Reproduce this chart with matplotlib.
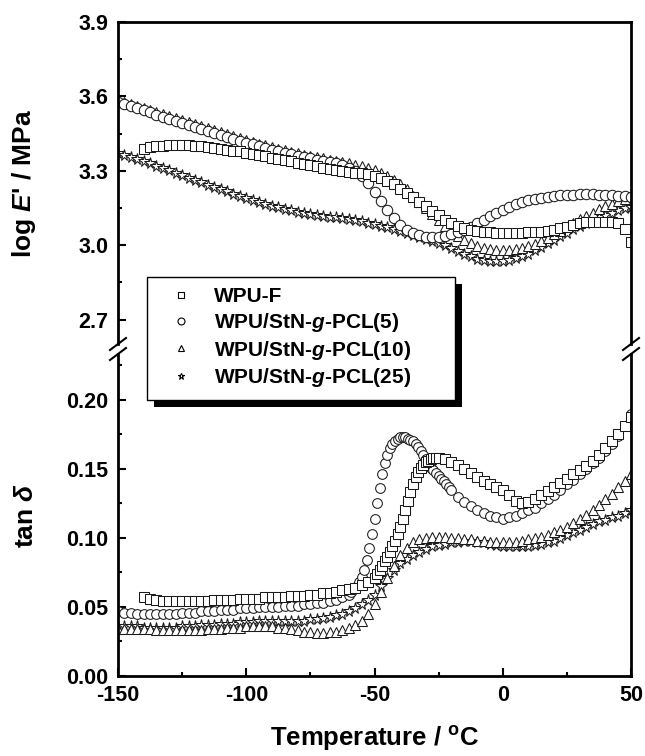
import numpy as np
import matplotlib
matplotlib.use('Agg')
import matplotlib.pyplot as plt
from matplotlib.lines import Line2D
from matplotlib.patches import Rectangle
from matplotlib.ticker import FixedLocator, FormatStrFormatter

plt.rcParams['font.family'] = ['Liberation Sans', 'DejaVu Sans']
plt.rcParams['font.weight'] = 'bold'
plt.rcParams['mathtext.fontset'] = 'custom'
plt.rcParams['mathtext.rm'] = 'Liberation Sans:bold'
plt.rcParams['mathtext.it'] = 'Liberation Sans:italic:bold'
plt.rcParams['mathtext.bf'] = 'Liberation Sans:bold'

# ----------------------------------------------------------------------- data
labels = ['WPU-F', 'WPU/StN-$g$-PCL(5)', 'WPU/StN-$g$-PCL(10)', 'WPU/StN-$g$-PCL(25)']
markers = ['s', 'o', '^', '*']

# temperature sweeps (deg C)
temp = np.arange(-150, 50.01, 2.5)
temp_f = np.arange(-140, 50.01, 2.5)

# log E' / MPa
logE_f = [3.390, 3.395, 3.399, 3.402, 3.404, 3.405, 3.405, 3.404,
          3.402, 3.400, 3.397, 3.394, 3.390, 3.386, 3.382, 3.378,
          3.373, 3.368, 3.363, 3.358, 3.353, 3.348, 3.343, 3.338,
          3.333, 3.328, 3.323, 3.318, 3.313, 3.308, 3.303, 3.299,
          3.296, 3.293, 3.290, 3.286, 3.280, 3.272, 3.260, 3.245,
          3.227, 3.212, 3.195, 3.176, 3.157, 3.138, 3.120, 3.103,
          3.089, 3.078, 3.069, 3.062, 3.057, 3.054, 3.052, 3.051,
          3.050, 3.050, 3.050, 3.051, 3.052, 3.053, 3.055, 3.058,
          3.062, 3.068, 3.075, 3.082, 3.088, 3.092, 3.094, 3.095,
          3.095, 3.093, 3.088, 3.065,
          3.015]
logE_5 = [3.576, 3.570, 3.563, 3.554, 3.545, 3.536, 3.527, 3.518,
          3.510, 3.502, 3.494, 3.486, 3.478, 3.470, 3.462, 3.454,
          3.446, 3.438, 3.430, 3.422, 3.414, 3.407, 3.400, 3.393,
          3.386, 3.379, 3.373, 3.367, 3.361, 3.355, 3.350, 3.345,
          3.340, 3.335, 3.330, 3.325, 3.312, 3.300, 3.280, 3.250,
          3.215, 3.178, 3.142, 3.110, 3.082, 3.062, 3.048, 3.040,
          3.035, 3.033, 3.034, 3.038, 3.045, 3.053, 3.063, 3.075,
          3.088, 3.102, 3.116, 3.130, 3.143, 3.155, 3.165, 3.174,
          3.181, 3.187, 3.192, 3.196, 3.199, 3.201, 3.203, 3.204,
          3.205, 3.205, 3.205, 3.204, 3.203, 3.201, 3.199, 3.197,
          3.195]
logE_10 = [3.582, 3.577, 3.570, 3.562, 3.554, 3.545, 3.536, 3.528,
           3.520, 3.512, 3.504, 3.496, 3.488, 3.480, 3.472, 3.464,
           3.456, 3.448, 3.440, 3.432, 3.424, 3.417, 3.410, 3.403,
           3.396, 3.389, 3.383, 3.377, 3.371, 3.365, 3.360, 3.355,
           3.350, 3.345, 3.340, 3.335, 3.330, 3.325, 3.320, 3.312,
           3.302, 3.292, 3.280, 3.264, 3.245, 3.225, 3.200, 3.175,
           3.150, 3.125, 3.100, 3.076, 3.055, 3.037, 3.021, 3.008,
           2.998, 2.990, 2.985, 2.982, 2.981, 2.982, 2.985, 2.990,
           2.997, 3.006, 3.017, 3.030, 3.044, 3.059, 3.074, 3.089,
           3.104, 3.118, 3.132, 3.145, 3.157, 3.168, 3.178, 3.188,
           3.197]
logE_25 = [3.372, 3.365, 3.357, 3.348, 3.339, 3.330, 3.320, 3.311,
           3.302, 3.292, 3.283, 3.273, 3.263, 3.254, 3.244, 3.235,
           3.226, 3.217, 3.208, 3.199, 3.191, 3.183, 3.175, 3.167,
           3.160, 3.153, 3.147, 3.141, 3.135, 3.130, 3.126, 3.122,
           3.118, 3.115, 3.112, 3.109, 3.105, 3.101, 3.096, 3.091,
           3.085, 3.079, 3.072, 3.065, 3.058, 3.050, 3.042, 3.034,
           3.026, 3.018, 3.010, 3.000, 2.990, 2.978, 2.966, 2.955,
           2.946, 2.940, 2.936, 2.935, 2.937, 2.941, 2.947, 2.956,
           2.966, 2.980, 2.994, 3.008, 3.022, 3.037, 3.051, 3.064,
           3.077, 3.090, 3.102, 3.113, 3.123, 3.132, 3.141, 3.149,
           3.156]

# tan delta (finer sweep read where the curves are steep)
temp_tan_f = np.concatenate([np.arange(-140, -49.9, 2.5), np.arange(-49, -25.9, 1),
                             np.arange(-25, 50.01, 2.5)])
temp_tan_5 = np.concatenate([np.arange(-150, -59.9, 2.5), np.arange(-59, -19.9, 1),
                             np.arange(-17.5, 50.01, 2.5)])
tan_f = [0.0575, 0.056, 0.055, 0.054, 0.054, 0.054, 0.054, 0.054,
         0.054, 0.054, 0.054, 0.055, 0.055, 0.055, 0.055, 0.056,
         0.056, 0.056, 0.056, 0.057, 0.057, 0.057, 0.057, 0.058,
         0.058, 0.058, 0.059, 0.059, 0.060, 0.060, 0.061, 0.062,
         0.063, 0.064, 0.066, 0.068, 0.071,
         0.074, 0.077, 0.080, 0.083, 0.086, 0.090, 0.094, 0.098,
         0.103, 0.108, 0.114, 0.120, 0.127, 0.133, 0.139, 0.144,
         0.148, 0.151, 0.153, 0.155, 0.156, 0.157, 0.158, 0.158,
         0.158, 0.157, 0.155, 0.153, 0.150, 0.147, 0.144, 0.141,
         0.139, 0.137, 0.135, 0.131, 0.127, 0.125, 0.126, 0.128,
         0.131, 0.134, 0.137, 0.140, 0.143, 0.146, 0.149, 0.152,
         0.156, 0.160, 0.165, 0.170, 0.175, 0.181, 0.188]
tan_5 = [0.047, 0.046, 0.046, 0.045, 0.045, 0.045, 0.045, 0.045,
         0.045, 0.045, 0.046, 0.046, 0.046, 0.047, 0.047, 0.047,
         0.048, 0.048, 0.048, 0.049, 0.049, 0.049, 0.050, 0.050,
         0.050, 0.050, 0.051, 0.051, 0.051, 0.052, 0.052, 0.053,
         0.053, 0.054, 0.055, 0.057,
         0.059,
         0.061, 0.063, 0.065, 0.068, 0.072, 0.077, 0.084, 0.093, 0.103, 0.114,
         0.125, 0.136, 0.146, 0.154, 0.160, 0.165, 0.168, 0.170, 0.172, 0.173,
         0.173, 0.173, 0.172, 0.171, 0.170, 0.168, 0.166, 0.163, 0.160, 0.157,
         0.154, 0.151, 0.149, 0.147, 0.145, 0.143, 0.141, 0.139, 0.137, 0.135,
         0.130, 0.126, 0.123, 0.120, 0.118, 0.116, 0.115, 0.114,
         0.115, 0.116, 0.118, 0.120, 0.122, 0.125, 0.128, 0.131,
         0.135, 0.139, 0.142, 0.146, 0.150, 0.154, 0.158, 0.163,
         0.168, 0.174, 0.181, 0.190]
tan_10 = [0.034, 0.034, 0.034, 0.034, 0.034, 0.034, 0.033, 0.033,
          0.033, 0.033, 0.033, 0.033, 0.033, 0.033, 0.034, 0.034,
          0.034, 0.035, 0.035, 0.035, 0.036, 0.036, 0.036, 0.036,
          0.036, 0.035, 0.035, 0.034, 0.033, 0.032, 0.032, 0.031,
          0.031, 0.032, 0.032, 0.033, 0.035, 0.037, 0.040, 0.045,
          0.052, 0.061, 0.071, 0.080, 0.088, 0.093, 0.097, 0.099,
          0.100, 0.101, 0.101, 0.101, 0.100, 0.100, 0.099, 0.099,
          0.098, 0.098, 0.097, 0.097, 0.097, 0.097, 0.097, 0.098,
          0.099, 0.100, 0.101, 0.102, 0.104, 0.106, 0.108, 0.111,
          0.114, 0.117, 0.120, 0.124, 0.128, 0.132, 0.137, 0.141,
          0.146]
tan_25 = [0.036, 0.036, 0.036, 0.036, 0.035, 0.035, 0.035, 0.035,
          0.035, 0.035, 0.036, 0.036, 0.036, 0.037, 0.037, 0.037,
          0.038, 0.038, 0.038, 0.039, 0.039, 0.039, 0.040, 0.040,
          0.040, 0.040, 0.040, 0.040, 0.040, 0.040, 0.041, 0.041,
          0.042, 0.043, 0.044, 0.045, 0.047, 0.049, 0.052, 0.055,
          0.059, 0.065, 0.071, 0.077, 0.082, 0.085, 0.088, 0.090,
          0.092, 0.094, 0.095, 0.096, 0.097, 0.097, 0.098, 0.098,
          0.097, 0.097, 0.096, 0.095, 0.094, 0.094, 0.094, 0.094,
          0.094, 0.095, 0.096, 0.097, 0.098, 0.100, 0.102, 0.104,
          0.106, 0.108, 0.110, 0.112, 0.113, 0.115, 0.116, 0.118,
          0.120]

W, H = 645, 756
FS = 15.5


def fx(px):
    return px / W


def fy(py):
    return 1 - py / H


def plot_series(ax, t, v, marker, ms):
    ax.plot(t, v, linestyle='none', marker=marker, ms=ms, mfc='white',
            mec='#1a1a1a', mew=0.75)


def style_axis(ax):
    for s in ax.spines.values():
        s.set_linewidth(2.0)
    ax.tick_params(which='both', direction='in', width=1.5, labelsize=FS,
                   right=False, top=False)
    ax.tick_params(which='major', length=5.5)
    ax.tick_params(which='minor', length=3)
    ax.tick_params(axis='y', pad=7)
    ax.tick_params(axis='x', pad=6.5)
    ax.set_xlim(-150, 50)


fig = plt.figure(figsize=(W / 100, H / 100), dpi=100)
ax_top = fig.add_axes([fx(118), fy(344), fx(631) - fx(118), fy(22) - fy(344)])
ax_bot = fig.add_axes([fx(118), fy(676), fx(631) - fx(118), fy(354) - fy(676)])

# --- log E'
plot_series(ax_top, temp, logE_25, '*', 8.5)
plot_series(ax_top, temp, logE_10, '^', 7.5)
plot_series(ax_top, temp, logE_5, 'o', 7.5)
plot_series(ax_top, temp_f, logE_f, 's', 7)
style_axis(ax_top)
ax_top.set_ylim(2.602, 3.9)
ax_top.spines['bottom'].set_visible(False)
ax_top.tick_params(axis='x', which='both', bottom=False, labelbottom=False)
ax_top.yaxis.set_major_locator(FixedLocator([2.7, 3.0, 3.3, 3.6, 3.9]))
ax_top.yaxis.set_minor_locator(FixedLocator([2.85, 3.15, 3.45, 3.75]))
ax_top.yaxis.set_major_formatter(FormatStrFormatter('%.1f'))
ax_top.set_ylabel("log $E$' / MPa", fontsize=19, fontweight='bold')
ax_top.yaxis.set_label_coords(-0.156, 0.5)

# --- tan delta
plot_series(ax_bot, temp, tan_25, '*', 8.5)
plot_series(ax_bot, temp, tan_10, '^', 7.5)
plot_series(ax_bot, temp_tan_5, tan_5, 'o', 7)
plot_series(ax_bot, temp_tan_f, tan_f, 's', 7)
style_axis(ax_bot)
ax_bot.set_ylim(0, 0.2333)
ax_bot.spines['top'].set_visible(False)
ax_bot.xaxis.set_major_locator(FixedLocator([-150, -100, -50, 0, 50]))
ax_bot.xaxis.set_minor_locator(FixedLocator([-125, -75, -25, 25]))
ax_bot.yaxis.set_major_locator(FixedLocator([0, 0.05, 0.10, 0.15, 0.20]))
ax_bot.yaxis.set_minor_locator(FixedLocator([0.025, 0.075, 0.125, 0.175, 0.225]))
ax_bot.yaxis.set_major_formatter(FormatStrFormatter('%.2f'))
ax_bot.xaxis.set_major_formatter(FormatStrFormatter('%d'))
ax_bot.set_ylabel("tan $\\delta$", fontsize=19, fontweight='bold')
ax_bot.yaxis.set_label_coords(-0.156, 0.5)
ax_bot.set_xlabel("Temperature / $^{\\mathregular{o}}$C", fontsize=18.5, fontweight='bold')
ax_bot.xaxis.set_label_coords(0.5, -0.148)
ax_bot.xaxis.label.set_va('top')

# --- axis break marks
for xb in (118, 631):
    for yb in (344, 354):
        fig.add_artist(Line2D([fx(xb - 8), fx(xb + 8)], [fy(yb + 6), fy(yb - 6)],
                              color='black', lw=1.5, transform=fig.transFigure))

# --- legend with hard shadow
handles = [Line2D([], [], linestyle='none', marker=m, ms=5, mfc='white',
                  mec='black', mew=0.8) for m in markers]
leg = fig.legend(handles, labels, loc='upper left',
                 bbox_to_anchor=(fx(147), fy(398), fx(455) - fx(147), fy(277) - fy(398)),
                 mode='expand', borderaxespad=0, fancybox=False, framealpha=1,
                 edgecolor='black', borderpad=0.5, handlelength=2.3,
                 handletextpad=0.4, labelspacing=0.22,
                 prop={'size': 15, 'weight': 'bold'})
leg.get_frame().set_linewidth(1.0)

fig.canvas.draw()
bb = leg.get_window_extent()
fig.add_artist(Rectangle(((bb.x0 + 7) / W, (bb.y0 - 7) / H), bb.width / W, bb.height / H,
                         facecolor='black', edgecolor='none', zorder=4.9,
                         transform=fig.transFigure))

fig.savefig('out.png', dpi=100)
